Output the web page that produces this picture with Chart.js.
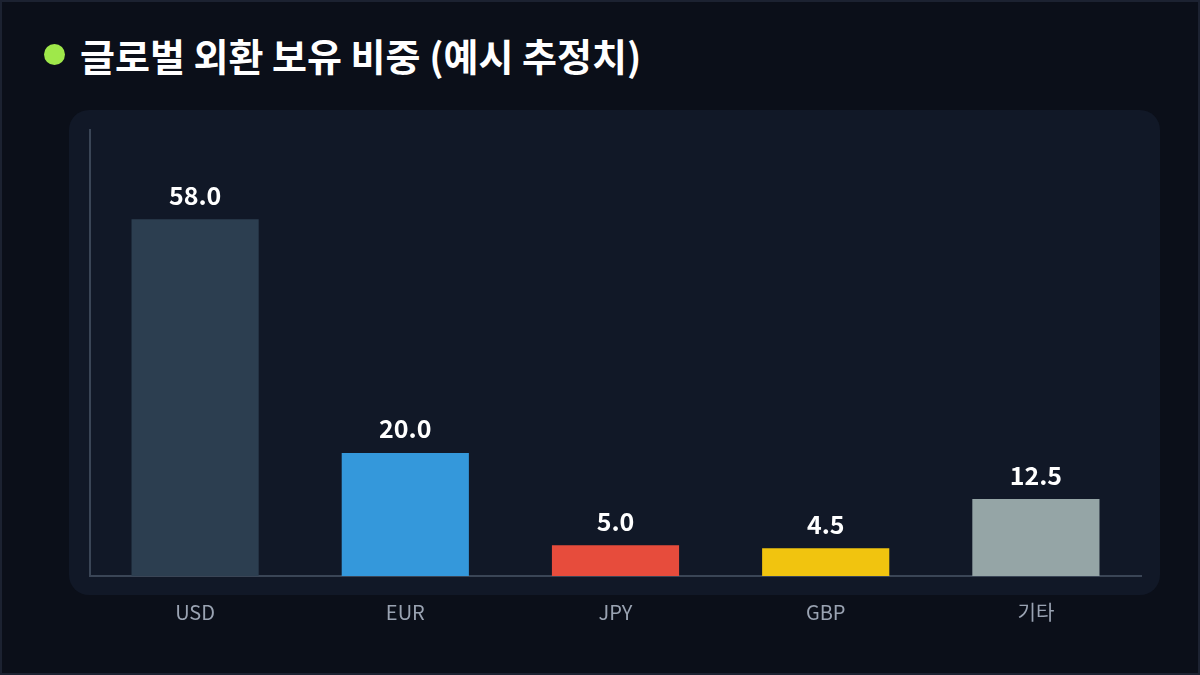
<!DOCTYPE html>
<html>
<head>
<meta charset="utf-8">
<script src="https://cdn.jsdelivr.net/npm/chart.js@4.4.0/dist/chart.umd.min.js"></script>
<style>
  html, body { margin: 0; padding: 0; width: 1200px; height: 675px; background: #0b0f19; overflow: hidden; }
  #frame { position: absolute; left: 0; top: 0; width: 1200px; height: 675px; box-sizing: border-box; border: 2px solid #1c2231; }
  #title { position: absolute; left: 44px; top: 27px; height: 54px; font-family: "Noto Sans CJK KR", "Noto Sans", sans-serif; font-weight: 700; font-size: 38px; color: #ffffff; display: flex; align-items: center; white-space: nowrap; }
  #title .dot { width: 21px; height: 21px; border-radius: 50%; background: #9fe84a; margin-right: 15px; display: inline-block; flex: none; }
  #wrap { position: absolute; left: 0; top: 0; width: 1200px; height: 675px; }
</style>
</head>
<body>
<div id="frame"></div>
<div id="title"><span class="dot"></span><span>글로벌 외환 보유 비중 (예시 추정치)</span></div>
<div id="wrap"><canvas id="c" width="1200" height="675"></canvas></div>
<script>
const categories = ["USD", "EUR", "JPY", "GBP", "기타"];
const shareValues = [58.0, 20.0, 5.0, 4.5, 12.5];
const barColors = ["#2c3e50", "#3498db", "#e74c3c", "#f1c40f", "#95a5a6"];

const panelPlugin = {
  id: 'panel',
  beforeDraw(chart) {
    const { ctx, chartArea } = chart;
    const x = chartArea.left - 21, y = chartArea.top - 20;
    const w = chartArea.right - chartArea.left + 40, h = chartArea.bottom - chartArea.top + 39;
    ctx.save();
    ctx.fillStyle = '#111827';
    ctx.beginPath();
    ctx.roundRect(x, y, w, h, 20);
    ctx.fill();
    ctx.restore();
  }
};

const valueLabels = {
  id: 'valueLabels',
  afterDatasetsDraw(chart) {
    const { ctx } = chart;
    const meta = chart.getDatasetMeta(0);
    ctx.save();
    ctx.fillStyle = '#ffffff';
    ctx.font = 'bold 25px "Noto Sans CJK KR", "Noto Sans", sans-serif';
    ctx.textAlign = 'center';
    ctx.textBaseline = 'middle';
    meta.data.forEach((bar, i) => {
      ctx.fillText(shareValues[i].toFixed(1), bar.x, bar.y - 24);
    });
    ctx.restore();
  }
};

new Chart(document.getElementById('c'), {
  type: 'bar',
  data: {
    labels: categories,
    datasets: [{
      data: shareValues,
      backgroundColor: barColors,
      borderWidth: 0,
      barPercentage: 0.605,
      categoryPercentage: 1.0
    }]
  },
  options: {
    responsive: false,
    animation: false,
    devicePixelRatio: 1,
    layout: { padding: { left: 90, right: 59, top: 130, bottom: 27 } },
    plugins: { legend: { display: false }, tooltip: { enabled: false }, title: { display: false } },
    scales: {
      x: {
        grid: { display: false, drawTicks: false },
        border: { display: true, color: '#3a4556', width: 2 },
        ticks: { color: '#9aa3b2', font: { family: '"Noto Sans CJK KR", "Noto Sans", sans-serif', size: 20 }, padding: 24 }
      },
      y: {
        min: 0, max: 72.5,
        grid: { display: false, drawTicks: false },
        border: { display: true, color: '#3a4556', width: 2 },
        ticks: { display: false }
      }
    }
  },
  plugins: [panelPlugin, valueLabels]
});
</script>
</body>
</html>
